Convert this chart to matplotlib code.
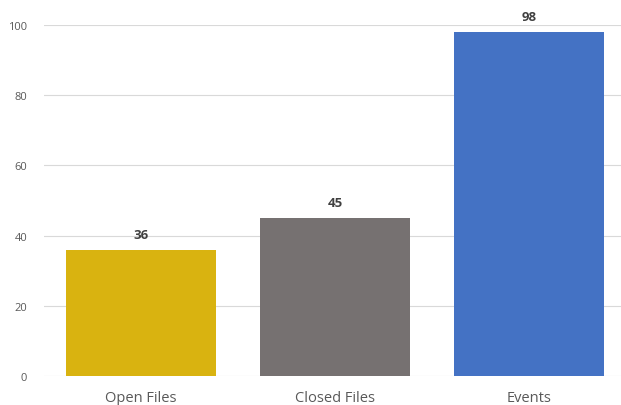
import matplotlib.pyplot as plt

categories = ["Open Files", "Closed Files", "Events"]
values = [36, 45, 98]
colors = ["#D9B310", "#767171", "#4472C4"]
yticks = [0, 20, 40, 60, 80, 100]

plt.rcParams["font.family"] = ["Open Sans", "DejaVu Sans"]

fig = plt.figure(figsize=(6.21, 4.06), dpi=100)
ax = fig.add_axes([44 / 621, 29 / 406, 582 / 621, 351 / 406])

x = range(len(categories))
bars = ax.bar(x, values, width=0.775, color=colors, zorder=3)

for rect, v in zip(bars, values):
    ax.text(rect.get_x() + rect.get_width() / 2, v + 2.6, str(v),
            ha="center", va="bottom", fontsize=9.5, fontweight="bold", color="#404040")

ax.set_xlim(-0.5, 2.5)
ax.set_ylim(0, 100)
ax.set_yticks(yticks)
ax.set_xticks(list(x))
ax.set_xticklabels(categories, fontsize=10.5, color="#595959")
ax.tick_params(axis="y", labelsize=8, colors="#595959", length=0, pad=12)
ax.tick_params(axis="x", length=0, pad=10)
ax.grid(axis="y", color="#D9D9D9", linewidth=0.8, zorder=0)
for s in ax.spines.values():
    s.set_visible(False)

fig.savefig("out.png", dpi=100)
